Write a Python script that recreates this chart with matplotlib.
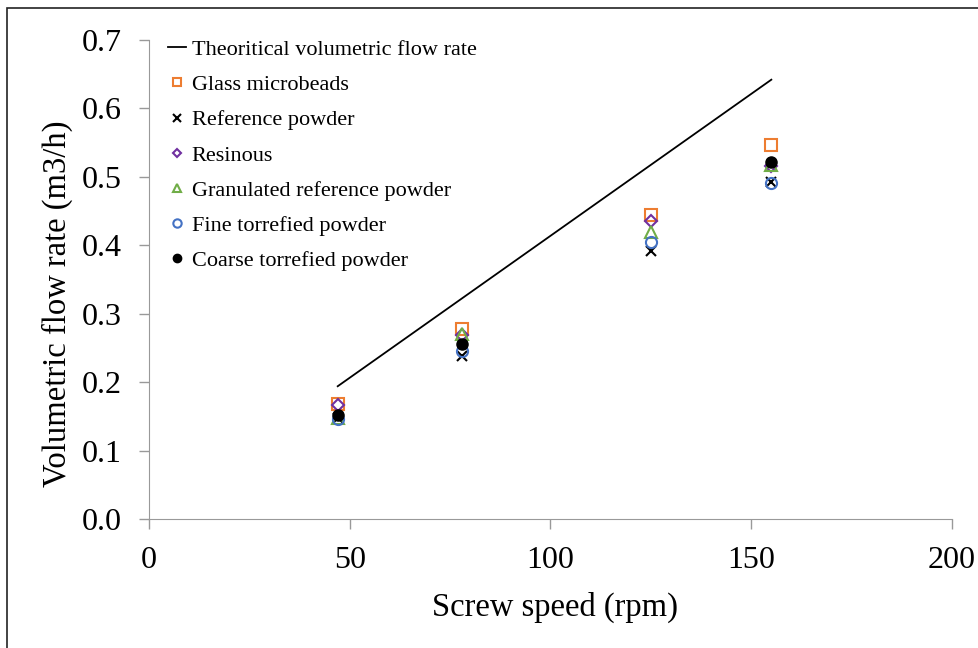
import matplotlib.pyplot as plt

plt.rcParams['font.family'] = ['Liberation Serif', 'DejaVu Serif']

# theoretical line
theo_x = [47, 155]
theo_y = [0.194, 0.642]

# measured points
speed = [47, 78, 125, 155]
glass = [0.168, 0.278, 0.444, 0.546]
reference = [0.148, 0.238, 0.392, 0.493]
resinous = [0.167, 0.269, 0.435, 0.516]
granulated = [0.147, 0.271, 0.420, 0.518]
fine = [0.146, 0.245, 0.405, 0.491]
coarse_x = [47, 78, 155]
coarse = [0.152, 0.256, 0.522]

W, H = 979, 648
fig = plt.figure(figsize=(W / 100, H / 100), dpi=100)
ax = fig.add_axes([149/W, 1 - 519/H, (952-149)/W, (519-40)/H])

ax.plot(theo_x, theo_y, color='black', lw=1.3, label='Theoritical volumetric flow rate')
ax.plot(speed, glass, 's', mfc='none', mec='#ED7D31', mew=1.5, ms=8, ls='none', label='Glass microbeads')
ax.plot(speed, reference, 'x', color='black', mew=1.5, ms=7, ls='none', label='Reference powder')
ax.plot(speed, resinous, 'D', mfc='none', mec='#7030A0', mew=1.5, ms=6, ls='none', label='Resinous')
ax.plot(speed, granulated, '^', mfc='none', mec='#70AD47', mew=1.5, ms=8, ls='none', label='Granulated reference powder')
ax.plot(speed, fine, 'o', mfc='none', mec='#4472C4', mew=1.5, ms=8, ls='none', label='Fine torrefied powder')
ax.plot(coarse_x, coarse, 'o', color='black', ms=8, ls='none', label='Coarse torrefied powder')

ax.set_xlim(0, 200)
ax.set_ylim(0, 0.7)
ax.set_xticks([0, 50, 100, 150, 200])
ax.set_yticks([0.0, 0.1, 0.2, 0.3, 0.4, 0.5, 0.6, 0.7])
ax.set_yticklabels([f'{v:.1f}' for v in ax.get_yticks()])
ax.tick_params(labelsize=23, direction='out', length=7.5, width=1, color='#999999', pad=12)
ax.spines['top'].set_visible(False)
ax.spines['right'].set_visible(False)
ax.spines['left'].set_color('#999999')
ax.spines['bottom'].set_color('#999999')

ax.set_xlabel('Screw speed (rpm)', fontsize=23.5)
ax.set_ylabel('Volumetric flow rate (m3/h)', fontsize=23.5)
ax.xaxis.set_label_coords(0.505, -0.152)
ax.yaxis.set_label_coords(-0.095, 0.45)

ax.legend(loc='upper left', bbox_to_anchor=(0.013, 1.02), frameon=False, fontsize=16,
          handlelength=0.8, handletextpad=0.25, labelspacing=0.66, markerscale=0.75,
          borderaxespad=0)

fig.patches.append(plt.Rectangle((7/W, -0.05), 1.1, 1 - 8/H + 0.05, transform=fig.transFigure,
                                 fill=False, edgecolor='#222222', lw=1.2, clip_on=False))

fig.savefig('out.png', dpi=100)
